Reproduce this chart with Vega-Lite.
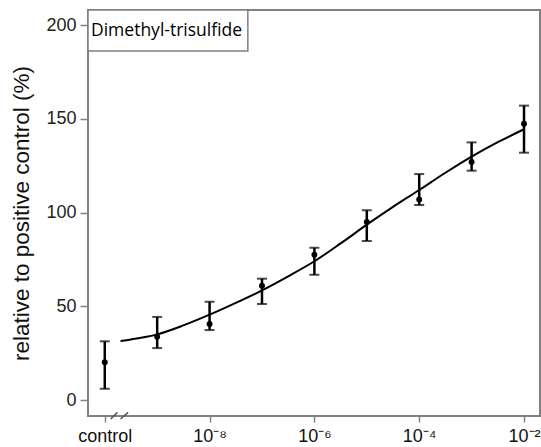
{
  "$schema": "https://vega.github.io/schema/vega-lite/v6.json",
  "width": 452,
  "height": 406,
  "autosize": {"type": "none"},
  "padding": {"left": 88, "top": 10, "right": 1, "bottom": 31},
  "background": "white",
  "config": {
    "font": "Liberation Sans",
    "view": {"stroke": "#808080", "strokeWidth": 2}
  },
  "datasets": {
    "points": [
      {"log_conc": -10, "mean": 20.1, "lo": 6.0, "hi": 31.3},
      {"log_conc": -9, "mean": 33.8, "lo": 27.7, "hi": 44.3},
      {"log_conc": -8, "mean": 40.5, "lo": 37.3, "hi": 52.4},
      {"log_conc": -7, "mean": 61.0, "lo": 51.2, "hi": 64.7},
      {"log_conc": -6, "mean": 77.5, "lo": 66.8, "hi": 81.2},
      {"log_conc": -5, "mean": 94.9, "lo": 84.8, "hi": 101.2},
      {"log_conc": -4, "mean": 107.0, "lo": 104.0, "hi": 120.5},
      {"log_conc": -3, "mean": 127.0, "lo": 122.3, "hi": 137.4},
      {"log_conc": -2, "mean": 147.4, "lo": 131.9, "hi": 157.0}
    ],
    "curve": [
      {"log_conc": -9.7, "fit": 31.5},
      {"log_conc": -9.5, "fit": 32.3},
      {"log_conc": -9.0, "fit": 35.0},
      {"log_conc": -8.5, "fit": 39.8},
      {"log_conc": -8.0, "fit": 45.5},
      {"log_conc": -7.5, "fit": 51.8},
      {"log_conc": -7.0, "fit": 58.5},
      {"log_conc": -6.5, "fit": 66.0},
      {"log_conc": -6.0, "fit": 74.0},
      {"log_conc": -5.5, "fit": 83.5},
      {"log_conc": -5.0, "fit": 93.5},
      {"log_conc": -4.5, "fit": 103.0},
      {"log_conc": -4.0, "fit": 112.0},
      {"log_conc": -3.5, "fit": 121.2},
      {"log_conc": -3.0, "fit": 129.8},
      {"log_conc": -2.5, "fit": 137.5},
      {"log_conc": -2.0, "fit": 144.4}
    ],
    "box": [
      {"x1": -10.32, "x2": -7.27, "y1": 186.1, "y2": 208, "label": "Dimethyl-trisulfide", "ty": 197}
    ],
    "breaks": [
      {"x1": -9.886, "x2": -9.76, "y1": -10.1, "y2": -6.6},
      {"x1": -9.70, "x2": -9.555, "y1": -10.1, "y2": -6.6}
    ]
  },
  "layer": [
    {
      "data": {"name": "curve"},
      "mark": {"type": "line", "color": "black", "strokeWidth": 2, "interpolate": "monotone"},
      "encoding": {
        "x": {
          "field": "log_conc", "type": "quantitative",
          "scale": {"domain": [-10.32, -1.695], "nice": false, "zero": false},
          "axis": {
            "values": [-10, -8, -6, -4, -2],
            "labelExpr": "datum.value === -10 ? 'control' : datum.value === -8 ? '10⁻⁸' : datum.value === -6 ? '10⁻⁶' : datum.value === -4 ? '10⁻⁴' : '10⁻²'",
            "title": null,
            "grid": false,
            "domain": false,
            "ticks": true,
            "tickColor": "#808080",
            "tickWidth": 1.5,
            "tickSize": 6,
            "labelFontSize": 18,
            "labelColor": "#111",
            "labelPadding": 5,
            "labelFlush": false
          }
        },
        "y": {
          "field": "fit", "type": "quantitative",
          "scale": {"domain": [-8.53, 208], "nice": false, "zero": false},
          "axis": {
            "values": [0, 50, 100, 150, 200],
            "title": "relative to positive control (%)",
            "titleFontSize": 22.5,
            "titleFontWeight": "normal",
            "titleColor": "#111",
            "titlePadding": 12,
            "grid": false,
            "domain": false,
            "tickColor": "#808080",
            "tickWidth": 1.5,
            "tickSize": 8,
            "labelFontSize": 18,
            "labelColor": "#222",
            "labelPadding": 4,
            "labelFlush": false
          }
        }
      }
    },
    {
      "data": {"name": "points"},
      "mark": {"type": "rule", "color": "black", "strokeWidth": 2.5},
      "encoding": {
        "x": {"field": "log_conc", "type": "quantitative"},
        "y": {"field": "lo", "type": "quantitative"},
        "y2": {"field": "hi"}
      }
    },
    {
      "data": {"name": "points"},
      "mark": {"type": "tick", "color": "black", "orient": "horizontal", "size": 10, "thickness": 2},
      "encoding": {
        "x": {"field": "log_conc", "type": "quantitative"},
        "y": {"field": "lo", "type": "quantitative"}
      }
    },
    {
      "data": {"name": "points"},
      "mark": {"type": "tick", "color": "black", "orient": "horizontal", "size": 10, "thickness": 2},
      "encoding": {
        "x": {"field": "log_conc", "type": "quantitative"},
        "y": {"field": "hi", "type": "quantitative"}
      }
    },
    {
      "data": {"name": "points"},
      "mark": {"type": "point", "filled": true, "color": "black", "size": 35, "opacity": 1},
      "encoding": {
        "x": {"field": "log_conc", "type": "quantitative"},
        "y": {"field": "mean", "type": "quantitative"}
      }
    },
    {
      "data": {"name": "box"},
      "mark": {"type": "rect", "fill": "white", "stroke": "#808080", "strokeWidth": 1.5},
      "encoding": {
        "x": {"field": "x1", "type": "quantitative"},
        "x2": {"field": "x2"},
        "y": {"field": "y1", "type": "quantitative"},
        "y2": {"field": "y2"}
      }
    },
    {
      "data": {"name": "box"},
      "mark": {"type": "text", "align": "left", "baseline": "middle", "dx": 3, "font": "Open Sans", "fontSize": 17.5, "color": "#000"},
      "encoding": {
        "x": {"field": "x1", "type": "quantitative"},
        "y": {"field": "ty", "type": "quantitative"},
        "text": {"field": "label"}
      }
    },
    {
      "data": {"name": "breaks"},
      "mark": {"type": "rule", "color": "#555", "strokeWidth": 1.5, "clip": false},
      "encoding": {
        "x": {"field": "x1", "type": "quantitative"},
        "x2": {"field": "x2"},
        "y": {"field": "y1", "type": "quantitative"},
        "y2": {"field": "y2"}
      }
    }
  ]
}
